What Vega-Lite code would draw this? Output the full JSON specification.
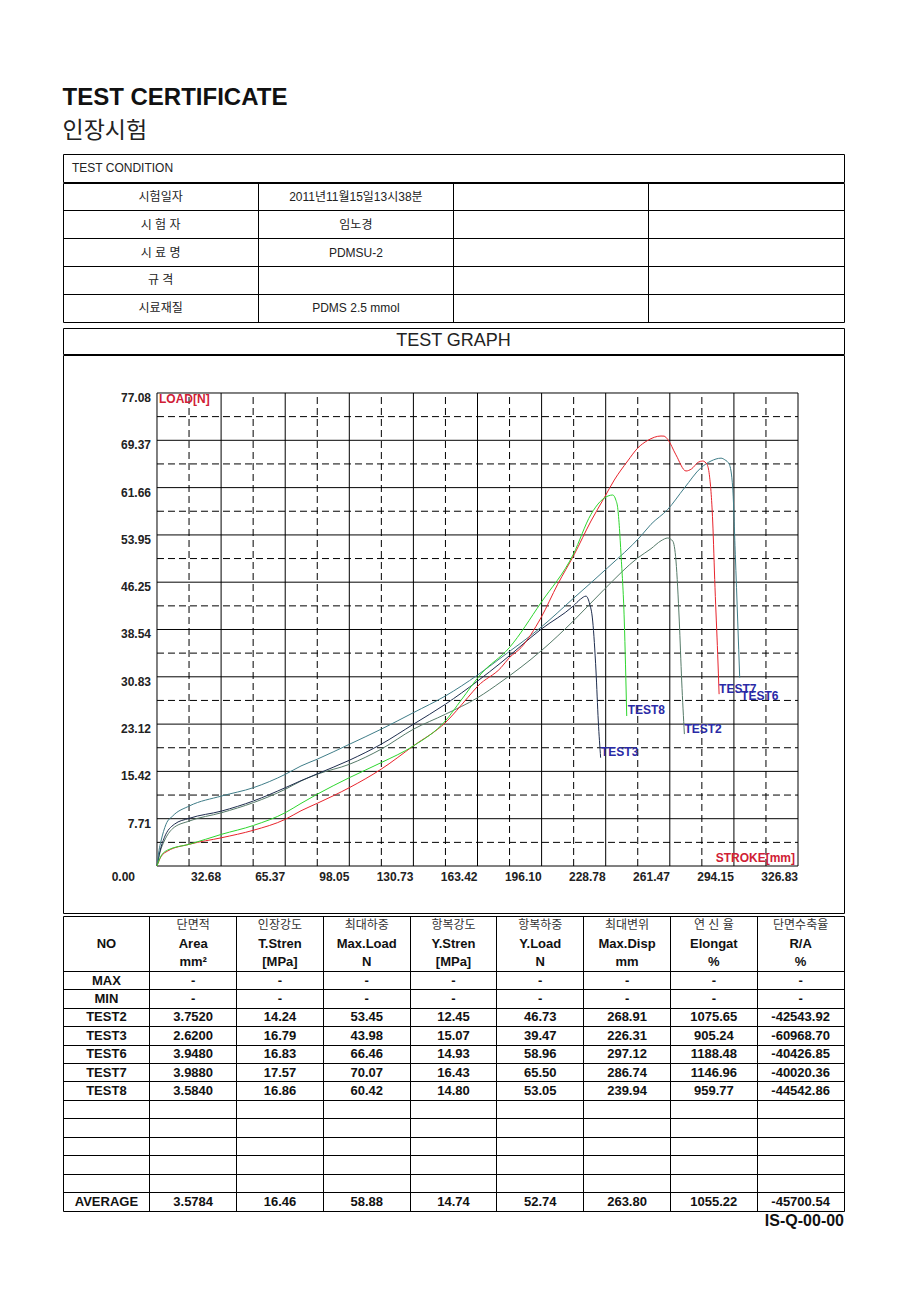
{
  "$schema": "https://vega.github.io/schema/vega-lite/v6.json",
  "background": "white",
  "padding": {"left": 62, "top": 85, "right": 10, "bottom": 10},
  "title": {
    "text": "TEST CERTIFICATE",
    "subtitle": "인장시험",
    "anchor": "start",
    "font": "Liberation Sans",
    "fontSize": 24,
    "fontWeight": "bold",
    "color": "#111",
    "subtitleFont": "Noto Sans CJK KR",
    "subtitleFontSize": 23,
    "subtitleColor": "#222",
    "subtitlePadding": 10,
    "offset": 11
  },
  "config": {
    "view": {"stroke": "#000", "strokeWidth": 1},
    "font": "Liberation Sans",
    "text": {"font": "Liberation Sans, Noto Sans CJK KR", "fontSize": 12, "color": "#111"}
  },
  "datasets": {
    "cond": [
      {"row": "r1", "col": "c1", "text": "시험일자"},
      {"row": "r1", "col": "c2", "text": "2011년11월15일13시38분"},
      {"row": "r2", "col": "c1", "text": "시 험 자"},
      {"row": "r2", "col": "c2", "text": "임노경"},
      {"row": "r3", "col": "c1", "text": "시 료 명"},
      {"row": "r3", "col": "c2", "text": "PDMSU-2"},
      {"row": "r4", "col": "c1", "text": "규    격"},
      {"row": "r5", "col": "c1", "text": "시료재질"},
      {"row": "r5", "col": "c2", "text": "PDMS 2.5 mmol"}
    ],
    "grid": [
      {"axis": "x", "v": 0, "kind": "solid"}, {"axis": "x", "v": 32.68, "kind": "solid"}, {"axis": "x", "v": 65.37, "kind": "solid"},
      {"axis": "x", "v": 98.05, "kind": "solid"}, {"axis": "x", "v": 130.73, "kind": "solid"}, {"axis": "x", "v": 163.42, "kind": "solid"},
      {"axis": "x", "v": 196.1, "kind": "solid"}, {"axis": "x", "v": 228.78, "kind": "solid"}, {"axis": "x", "v": 261.47, "kind": "solid"},
      {"axis": "x", "v": 294.15, "kind": "solid"}, {"axis": "x", "v": 326.83, "kind": "solid"},
      {"axis": "x", "v": 16.34, "kind": "dashed"}, {"axis": "x", "v": 49.02, "kind": "dashed"}, {"axis": "x", "v": 81.71, "kind": "dashed"},
      {"axis": "x", "v": 114.39, "kind": "dashed"}, {"axis": "x", "v": 147.07, "kind": "dashed"}, {"axis": "x", "v": 179.76, "kind": "dashed"},
      {"axis": "x", "v": 212.44, "kind": "dashed"}, {"axis": "x", "v": 245.12, "kind": "dashed"}, {"axis": "x", "v": 277.81, "kind": "dashed"},
      {"axis": "x", "v": 310.49, "kind": "dashed"},
      {"axis": "y", "v": 0, "kind": "solid"}, {"axis": "y", "v": 7.71, "kind": "solid"}, {"axis": "y", "v": 15.42, "kind": "solid"},
      {"axis": "y", "v": 23.12, "kind": "solid"}, {"axis": "y", "v": 30.83, "kind": "solid"}, {"axis": "y", "v": 38.54, "kind": "solid"},
      {"axis": "y", "v": 46.25, "kind": "solid"}, {"axis": "y", "v": 53.95, "kind": "solid"}, {"axis": "y", "v": 61.66, "kind": "solid"},
      {"axis": "y", "v": 69.37, "kind": "solid"}, {"axis": "y", "v": 77.08, "kind": "solid"},
      {"axis": "y", "v": 3.85, "kind": "dashed"}, {"axis": "y", "v": 11.56, "kind": "dashed"}, {"axis": "y", "v": 19.27, "kind": "dashed"},
      {"axis": "y", "v": 26.98, "kind": "dashed"}, {"axis": "y", "v": 34.69, "kind": "dashed"}, {"axis": "y", "v": 42.39, "kind": "dashed"},
      {"axis": "y", "v": 50.1, "kind": "dashed"}, {"axis": "y", "v": 57.81, "kind": "dashed"}, {"axis": "y", "v": 65.52, "kind": "dashed"},
      {"axis": "y", "v": 73.23, "kind": "dashed"}
    ],
    "curves": [
      {"test": "TEST2", "x": 0, "y": 0}, {"test": "TEST2", "x": 1.5, "y": 2.2}, {"test": "TEST2", "x": 3.72, "y": 4.07},
      {"test": "TEST2", "x": 8.0, "y": 6.1}, {"test": "TEST2", "x": 16.47, "y": 7.33}, {"test": "TEST2", "x": 32.99, "y": 8.69},
      {"test": "TEST2", "x": 49.1, "y": 10.32}, {"test": "TEST2", "x": 65.42, "y": 12.5}, {"test": "TEST2", "x": 73.42, "y": 13.85},
      {"test": "TEST2", "x": 81.58, "y": 14.94}, {"test": "TEST2", "x": 98.05, "y": 16.57}, {"test": "TEST2", "x": 114.21, "y": 19.02},
      {"test": "TEST2", "x": 130.68, "y": 22.28}, {"test": "TEST2", "x": 146.99, "y": 24.72}, {"test": "TEST2", "x": 163.51, "y": 27.43},
      {"test": "TEST2", "x": 175.39, "y": 30.0}, {"test": "TEST2", "x": 195.79, "y": 35.04}, {"test": "TEST2", "x": 212.26, "y": 39.92},
      {"test": "TEST2", "x": 228.06, "y": 45.09}, {"test": "TEST2", "x": 245.09, "y": 50.2}, {"test": "TEST2", "x": 251.87, "y": 51.7},
      {"test": "TEST2", "x": 257.0, "y": 53.0}, {"test": "TEST2", "x": 260.39, "y": 53.45}, {"test": "TEST2", "x": 262.94, "y": 52.96},
      {"test": "TEST2", "x": 264.62, "y": 49.7}, {"test": "TEST2", "x": 266.3, "y": 39.92}, {"test": "TEST2", "x": 267.53, "y": 30.15},
      {"test": "TEST2", "x": 268.9, "y": 21.5},
      {"test": "TEST3", "x": 0, "y": 0}, {"test": "TEST3", "x": 1.5, "y": 2.4}, {"test": "TEST3", "x": 3.72, "y": 4.61},
      {"test": "TEST3", "x": 8.82, "y": 6.8}, {"test": "TEST3", "x": 16.47, "y": 7.77}, {"test": "TEST3", "x": 32.99, "y": 8.96},
      {"test": "TEST3", "x": 49.1, "y": 10.59}, {"test": "TEST3", "x": 65.42, "y": 12.76}, {"test": "TEST3", "x": 73.42, "y": 13.9},
      {"test": "TEST3", "x": 81.58, "y": 15.0}, {"test": "TEST3", "x": 98.05, "y": 17.23}, {"test": "TEST3", "x": 114.21, "y": 19.83},
      {"test": "TEST3", "x": 130.68, "y": 23.09}, {"test": "TEST3", "x": 146.99, "y": 26.35}, {"test": "TEST3", "x": 163.51, "y": 30.15},
      {"test": "TEST3", "x": 175.39, "y": 33.13}, {"test": "TEST3", "x": 195.79, "y": 38.57}, {"test": "TEST3", "x": 212.26, "y": 42.37},
      {"test": "TEST3", "x": 216.0, "y": 43.5}, {"test": "TEST3", "x": 218.73, "y": 43.98}, {"test": "TEST3", "x": 220.42, "y": 42.91},
      {"test": "TEST3", "x": 222.15, "y": 39.92}, {"test": "TEST3", "x": 223.83, "y": 31.78}, {"test": "TEST3", "x": 225.0, "y": 23.63},
      {"test": "TEST3", "x": 226.2, "y": 17.65},
      {"test": "TEST6", "x": 0, "y": 0}, {"test": "TEST6", "x": 1.0, "y": 2.5}, {"test": "TEST6", "x": 2.04, "y": 4.07},
      {"test": "TEST6", "x": 4.59, "y": 6.8}, {"test": "TEST6", "x": 8.0, "y": 8.15}, {"test": "TEST6", "x": 16.47, "y": 9.78},
      {"test": "TEST6", "x": 32.99, "y": 11.41}, {"test": "TEST6", "x": 49.1, "y": 12.76}, {"test": "TEST6", "x": 65.42, "y": 14.94},
      {"test": "TEST6", "x": 73.42, "y": 16.3}, {"test": "TEST6", "x": 81.58, "y": 17.39}, {"test": "TEST6", "x": 98.05, "y": 19.83},
      {"test": "TEST6", "x": 114.21, "y": 22.28}, {"test": "TEST6", "x": 130.68, "y": 24.98}, {"test": "TEST6", "x": 146.99, "y": 27.7},
      {"test": "TEST6", "x": 163.51, "y": 31.13}, {"test": "TEST6", "x": 175.39, "y": 33.94}, {"test": "TEST6", "x": 195.79, "y": 38.9},
      {"test": "TEST6", "x": 212.26, "y": 43.6}, {"test": "TEST6", "x": 229.79, "y": 48.61}, {"test": "TEST6", "x": 246.8, "y": 53.8},
      {"test": "TEST6", "x": 251.87, "y": 55.68}, {"test": "TEST6", "x": 260.39, "y": 58.1}, {"test": "TEST6", "x": 268.9, "y": 61.6},
      {"test": "TEST6", "x": 277.37, "y": 64.9}, {"test": "TEST6", "x": 282.5, "y": 66.0}, {"test": "TEST6", "x": 287.57, "y": 66.46},
      {"test": "TEST6", "x": 289.5, "y": 66.2}, {"test": "TEST6", "x": 291.8, "y": 65.46}, {"test": "TEST6", "x": 293.54, "y": 61.65},
      {"test": "TEST6", "x": 294.86, "y": 50.79}, {"test": "TEST6", "x": 296.09, "y": 39.92}, {"test": "TEST6", "x": 297.1, "y": 30.7},
      {"test": "TEST7", "x": 0, "y": 0}, {"test": "TEST7", "x": 2.0, "y": 1.5}, {"test": "TEST7", "x": 5.46, "y": 2.44},
      {"test": "TEST7", "x": 16.47, "y": 3.54}, {"test": "TEST7", "x": 32.99, "y": 4.61}, {"test": "TEST7", "x": 49.1, "y": 5.82},
      {"test": "TEST7", "x": 65.42, "y": 7.61}, {"test": "TEST7", "x": 73.42, "y": 9.0}, {"test": "TEST7", "x": 81.58, "y": 10.2},
      {"test": "TEST7", "x": 98.05, "y": 12.76}, {"test": "TEST7", "x": 114.21, "y": 15.76}, {"test": "TEST7", "x": 130.68, "y": 19.56},
      {"test": "TEST7", "x": 146.99, "y": 23.35}, {"test": "TEST7", "x": 158.41, "y": 27.43}, {"test": "TEST7", "x": 163.51, "y": 29.3},
      {"test": "TEST7", "x": 175.39, "y": 32.32}, {"test": "TEST7", "x": 179.63, "y": 33.94}, {"test": "TEST7", "x": 185.59, "y": 35.57},
      {"test": "TEST7", "x": 195.79, "y": 40.46}, {"test": "TEST7", "x": 204.3, "y": 45.91}, {"test": "TEST7", "x": 212.77, "y": 50.79},
      {"test": "TEST7", "x": 221.28, "y": 56.22}, {"test": "TEST7", "x": 228.06, "y": 60.02}, {"test": "TEST7", "x": 233.16, "y": 62.9},
      {"test": "TEST7", "x": 239.99, "y": 66.0}, {"test": "TEST7", "x": 245.09, "y": 68.1}, {"test": "TEST7", "x": 250.19, "y": 69.35},
      {"test": "TEST7", "x": 256.97, "y": 70.07}, {"test": "TEST7", "x": 258.5, "y": 70.05}, {"test": "TEST7", "x": 260.39, "y": 69.53},
      {"test": "TEST7", "x": 264.6, "y": 67.0}, {"test": "TEST7", "x": 269.72, "y": 64.37}, {"test": "TEST7", "x": 272.5, "y": 64.7},
      {"test": "TEST7", "x": 276.0, "y": 65.8}, {"test": "TEST7", "x": 278.24, "y": 66.0}, {"test": "TEST7", "x": 280.5, "y": 65.4},
      {"test": "TEST7", "x": 281.6, "y": 63.83}, {"test": "TEST7", "x": 283.33, "y": 56.22}, {"test": "TEST7", "x": 284.51, "y": 45.35},
      {"test": "TEST7", "x": 285.88, "y": 34.5}, {"test": "TEST7", "x": 286.6, "y": 28.0},
      {"test": "TEST8", "x": 0, "y": 0}, {"test": "TEST8", "x": 2.0, "y": 1.6}, {"test": "TEST8", "x": 5.46, "y": 2.6},
      {"test": "TEST8", "x": 16.47, "y": 3.54}, {"test": "TEST8", "x": 32.99, "y": 5.17}, {"test": "TEST8", "x": 49.1, "y": 6.6},
      {"test": "TEST8", "x": 65.42, "y": 8.69}, {"test": "TEST8", "x": 73.42, "y": 10.2}, {"test": "TEST8", "x": 81.58, "y": 11.68},
      {"test": "TEST8", "x": 98.05, "y": 14.39}, {"test": "TEST8", "x": 114.21, "y": 16.83}, {"test": "TEST8", "x": 130.68, "y": 19.56},
      {"test": "TEST8", "x": 146.99, "y": 23.63}, {"test": "TEST8", "x": 155.0, "y": 27.0}, {"test": "TEST8", "x": 165.2, "y": 31.3},
      {"test": "TEST8", "x": 179.63, "y": 35.57}, {"test": "TEST8", "x": 195.79, "y": 42.91}, {"test": "TEST8", "x": 212.26, "y": 50.79},
      {"test": "TEST8", "x": 221.28, "y": 57.31}, {"test": "TEST8", "x": 226.0, "y": 59.4}, {"test": "TEST8", "x": 230.0, "y": 60.3},
      {"test": "TEST8", "x": 232.34, "y": 60.46}, {"test": "TEST8", "x": 234.0, "y": 59.6}, {"test": "TEST8", "x": 234.89, "y": 58.39},
      {"test": "TEST8", "x": 235.8, "y": 55.0}, {"test": "TEST8", "x": 236.58, "y": 50.79}, {"test": "TEST8", "x": 238.26, "y": 39.92},
      {"test": "TEST8", "x": 239.5, "y": 24.44}
    ],
    "endLabels": [
      {"test": "TEST7", "x": 286.6, "y": 28.24},
      {"test": "TEST6", "x": 297.8, "y": 27.0},
      {"test": "TEST2", "x": 268.9, "y": 21.72},
      {"test": "TEST8", "x": 240.0, "y": 24.72},
      {"test": "TEST3", "x": 226.4, "y": 17.93}
    ],
    "results": [
      {"row": "h1", "NO": "", "Area": "단면적", "TStren": "인장강도", "MaxLoad": "최대하중", "YStren": "항복강도", "YLoad": "항복하중", "MaxDisp": "최대변위", "Elongat": "연 신 율", "RA": "단면수축율"},
      {"row": "h2", "NO": "NO", "Area": "Area", "TStren": "T.Stren", "MaxLoad": "Max.Load", "YStren": "Y.Stren", "YLoad": "Y.Load", "MaxDisp": "Max.Disp", "Elongat": "Elongat", "RA": "R/A"},
      {"row": "h3", "NO": "", "Area": "mm²", "TStren": "[MPa]", "MaxLoad": "N", "YStren": "[MPa]", "YLoad": "N", "MaxDisp": "mm", "Elongat": "%", "RA": "%"},
      {"row": "MAX", "NO": "MAX", "Area": "-", "TStren": "-", "MaxLoad": "-", "YStren": "-", "YLoad": "-", "MaxDisp": "-", "Elongat": "-", "RA": "-"},
      {"row": "MIN", "NO": "MIN", "Area": "-", "TStren": "-", "MaxLoad": "-", "YStren": "-", "YLoad": "-", "MaxDisp": "-", "Elongat": "-", "RA": "-"},
      {"row": "TEST2", "NO": "TEST2", "Area": "3.7520", "TStren": "14.24", "MaxLoad": "53.45", "YStren": "12.45", "YLoad": "46.73", "MaxDisp": "268.91", "Elongat": "1075.65", "RA": "-42543.92"},
      {"row": "TEST3", "NO": "TEST3", "Area": "2.6200", "TStren": "16.79", "MaxLoad": "43.98", "YStren": "15.07", "YLoad": "39.47", "MaxDisp": "226.31", "Elongat": "905.24", "RA": "-60968.70"},
      {"row": "TEST6", "NO": "TEST6", "Area": "3.9480", "TStren": "16.83", "MaxLoad": "66.46", "YStren": "14.93", "YLoad": "58.96", "MaxDisp": "297.12", "Elongat": "1188.48", "RA": "-40426.85"},
      {"row": "TEST7", "NO": "TEST7", "Area": "3.9880", "TStren": "17.57", "MaxLoad": "70.07", "YStren": "16.43", "YLoad": "65.50", "MaxDisp": "286.74", "Elongat": "1146.96", "RA": "-40020.36"},
      {"row": "TEST8", "NO": "TEST8", "Area": "3.5840", "TStren": "16.86", "MaxLoad": "60.42", "YStren": "14.80", "YLoad": "53.05", "MaxDisp": "239.94", "Elongat": "959.77", "RA": "-44542.86"},
      {"row": "AVERAGE", "NO": "AVERAGE", "Area": "3.5784", "TStren": "16.46", "MaxLoad": "58.88", "YStren": "14.74", "YLoad": "52.74", "MaxDisp": "263.80", "Elongat": "1055.22", "RA": "-45700.54"}
    ]
  },
  "spacing": 1,
  "vconcat": [
    {
      "spacing": 4,
      "vconcat": [
        {
          "spacing": -2,
          "vconcat": [
            {
              "width": 781,
              "height": 28,
              "data": {"values": [{"t": "TEST CONDITION"}]},
              "mark": {"type": "text", "align": "left", "dx": 9, "fontSize": 12, "color": "#222"},
              "encoding": {
                "x": {"field": "t", "type": "nominal", "bandPosition": 0, "scale": {"type": "band", "paddingInner": 0, "paddingOuter": 0}, "axis": null},
                "text": {"field": "t"}
              }
            },
            {
              "width": 781,
              "height": 139,
              "data": {"name": "cond"},
              "mark": {"type": "text", "fontSize": 12, "color": "#222"},
              "encoding": {
                "x": {
                  "field": "col", "type": "nominal",
                  "scale": {"type": "band", "domain": ["c1", "c2", "c3", "c4"], "paddingInner": 0, "paddingOuter": 0},
                  "axis": {"title": null, "labels": false, "ticks": false, "domain": false, "grid": true, "gridColor": "#000", "gridWidth": 1, "gridOpacity": 1, "bandPosition": 0, "values": ["c2", "c3", "c4"], "minExtent": 0, "maxExtent": 0}
                },
                "y": {
                  "field": "row", "type": "nominal",
                  "scale": {"type": "band", "domain": ["r1", "r2", "r3", "r4", "r5"], "paddingInner": 0, "paddingOuter": 0},
                  "axis": {"title": null, "labels": false, "ticks": false, "domain": false, "grid": true, "gridColor": "#000", "gridWidth": 1, "gridOpacity": 1, "bandPosition": 0, "values": ["r2", "r3", "r4", "r5"], "minExtent": 0, "maxExtent": 0}
                },
                "text": {"field": "text"}
              }
            }
          ]
        },
        {
          "spacing": -2,
          "vconcat": [
            {
              "width": 781,
              "height": 26,
              "data": {"values": [{"t": "TEST GRAPH"}]},
              "mark": {"type": "text", "fontSize": 18, "font": "Liberation Sans", "color": "#222"},
              "encoding": {
                "x": {"field": "t", "type": "nominal", "scale": {"type": "band", "paddingInner": 0, "paddingOuter": 0}, "axis": null},
                "text": {"field": "t"}
              }
            },
            {
              "width": 781,
              "height": 558,
              "layer": [
                {
                  "data": {"name": "grid"},
                  "transform": [{"filter": "datum.axis === 'x'"}],
                  "mark": {"type": "rule", "color": "#000", "strokeWidth": 1},
                  "encoding": {
                    "x": {"field": "v", "type": "quantitative", "scale": {"domain": [-47.928, 350.284], "nice": false, "zero": false}, "axis": null},
                    "y": {"datum": 0, "type": "quantitative", "scale": {"domain": [-7.659, 83.272], "nice": false, "zero": false}, "axis": null},
                    "y2": {"datum": 77.08},
                    "strokeDash": {"field": "kind", "type": "nominal", "scale": {"domain": ["solid", "dashed"], "range": [[1, 0], [7, 4]]}, "legend": null}
                  }
                },
                {
                  "data": {"name": "grid"},
                  "transform": [{"filter": "datum.axis === 'y'"}],
                  "mark": {"type": "rule", "color": "#000", "strokeWidth": 1},
                  "encoding": {
                    "y": {"field": "v", "type": "quantitative", "axis": null},
                    "x": {"datum": 0, "type": "quantitative", "axis": null},
                    "x2": {"datum": 326.83},
                    "strokeDash": {"field": "kind", "type": "nominal", "scale": {"domain": ["solid", "dashed"], "range": [[1, 0], [7, 4]]}, "legend": null}
                  }
                },
                {
                  "data": {"name": "grid"},
                  "transform": [{"filter": "datum.axis === 'x' && datum.kind === 'solid' && datum.v > 0"}],
                  "mark": {"type": "text", "align": "right", "baseline": "top", "dy": 6, "font": "Liberation Sans", "fontSize": 12, "fontWeight": "bold", "color": "#222"},
                  "encoding": {
                    "x": {"field": "v", "type": "quantitative", "axis": null},
                    "y": {"datum": 0, "type": "quantitative", "axis": null},
                    "text": {"field": "v", "type": "quantitative", "format": ".2f"}
                  }
                },
                {
                  "data": {"name": "grid"},
                  "transform": [{"filter": "datum.axis === 'x' && datum.v === 0"}],
                  "mark": {"type": "text", "align": "right", "baseline": "top", "dx": -22, "dy": 6, "font": "Liberation Sans", "fontSize": 12, "fontWeight": "bold", "color": "#222"},
                  "encoding": {
                    "x": {"field": "v", "type": "quantitative", "axis": null},
                    "y": {"datum": 0, "type": "quantitative", "axis": null},
                    "text": {"field": "v", "type": "quantitative", "format": ".2f"}
                  }
                },
                {
                  "data": {"name": "grid"},
                  "transform": [{"filter": "datum.axis === 'y' && datum.kind === 'solid' && datum.v > 0"}],
                  "mark": {"type": "text", "align": "right", "baseline": "top", "dx": -6, "font": "Liberation Sans", "fontSize": 12, "fontWeight": "bold", "color": "#222"},
                  "encoding": {
                    "y": {"field": "v", "type": "quantitative", "axis": null},
                    "x": {"datum": 0, "type": "quantitative", "axis": null},
                    "text": {"field": "v", "type": "quantitative", "format": ".2f"}
                  }
                },
                {
                  "data": {"name": "curves"},
                  "mark": {"type": "line", "interpolate": "monotone"},
                  "encoding": {
                    "x": {"field": "x", "type": "quantitative", "axis": null},
                    "y": {"field": "y", "type": "quantitative", "axis": null},
                    "color": {"field": "test", "type": "nominal", "scale": {"domain": ["TEST2", "TEST3", "TEST6", "TEST7", "TEST8"], "range": ["#557a68", "#1e2d4e", "#3f7d88", "#e8242c", "#2ed62e"]}, "legend": null},
                    "strokeWidth": {"field": "test", "type": "nominal", "scale": {"domain": ["TEST2", "TEST3", "TEST6", "TEST7", "TEST8"], "range": [1, 1, 1, 1.3, 2]}, "legend": null}
                  }
                },
                {
                  "data": {"name": "endLabels"},
                  "mark": {"type": "text", "align": "left", "baseline": "alphabetic", "font": "Liberation Sans", "fontSize": 12, "fontWeight": "bold", "color": "#2a2aa6"},
                  "encoding": {
                    "x": {"field": "x", "type": "quantitative", "axis": null},
                    "y": {"field": "y", "type": "quantitative", "axis": null},
                    "text": {"field": "test"}
                  }
                },
                {
                  "data": {"values": [{"label": "LOAD[N]"}]},
                  "mark": {"type": "text", "align": "left", "baseline": "top", "dx": 2, "dy": 1, "font": "Liberation Sans", "fontSize": 12, "fontWeight": "bold", "color": "#d02035"},
                  "encoding": {
                    "x": {"datum": 0, "type": "quantitative", "axis": null},
                    "y": {"datum": 77.08, "type": "quantitative", "axis": null},
                    "text": {"field": "label"}
                  }
                },
                {
                  "data": {"values": [{"label": "STROKE[mm]"}]},
                  "mark": {"type": "text", "align": "right", "baseline": "alphabetic", "dx": -3, "dy": -4, "font": "Liberation Sans", "fontSize": 12, "fontWeight": "bold", "color": "#d02035"},
                  "encoding": {
                    "x": {"datum": 326.83, "type": "quantitative", "axis": null},
                    "y": {"datum": 0, "type": "quantitative", "axis": null},
                    "text": {"field": "label"}
                  }
                }
              ]
            }
          ]
        }
      ]
    },
    {
      "width": 781,
      "height": 295,
      "title": {"text": "IS-Q-00-00", "orient": "bottom", "anchor": "end", "font": "Liberation Sans", "fontSize": 16, "fontWeight": "bold", "color": "#111", "offset": 2},
      "data": {"name": "results"},
      "transform": [{"fold": ["NO", "Area", "TStren", "MaxLoad", "YStren", "YLoad", "MaxDisp", "Elongat", "RA"], "as": ["col", "text"]}],
      "encoding": {
        "x": {
          "field": "col", "type": "nominal",
          "scale": {"type": "band", "domain": ["NO", "Area", "TStren", "MaxLoad", "YStren", "YLoad", "MaxDisp", "Elongat", "RA"], "paddingInner": 0, "paddingOuter": 0},
          "axis": {"title": null, "labels": false, "ticks": false, "domain": false, "grid": true, "gridColor": "#000", "gridWidth": 1, "gridOpacity": 1, "bandPosition": 0, "values": ["Area", "TStren", "MaxLoad", "YStren", "YLoad", "MaxDisp", "Elongat", "RA"], "minExtent": 0, "maxExtent": 0}
        },
        "y": {
          "field": "row", "type": "nominal",
          "scale": {"type": "band", "domain": ["h1", "h2", "h3", "MAX", "MIN", "TEST2", "TEST3", "TEST6", "TEST7", "TEST8", "e1", "e2", "e3", "e4", "e5", "AVERAGE"], "paddingInner": 0, "paddingOuter": 0},
          "axis": {"title": null, "labels": false, "ticks": false, "domain": false, "grid": true, "gridColor": "#000", "gridWidth": 1, "gridOpacity": 1, "bandPosition": 0, "values": ["MAX", "MIN", "TEST2", "TEST3", "TEST6", "TEST7", "TEST8", "e1", "e2", "e3", "e4", "e5", "AVERAGE"], "minExtent": 0, "maxExtent": 0}
        },
        "text": {"field": "text"}
      },
      "layer": [
        {
          "transform": [{"filter": "datum.row === 'h1'"}],
          "mark": {"type": "text", "fontSize": 12, "color": "#333"}
        },
        {
          "transform": [{"filter": "datum.row !== 'h1'"}],
          "mark": {"type": "text", "fontSize": 13, "fontWeight": "bold", "color": "#111"}
        }
      ]
    }
  ]
}
